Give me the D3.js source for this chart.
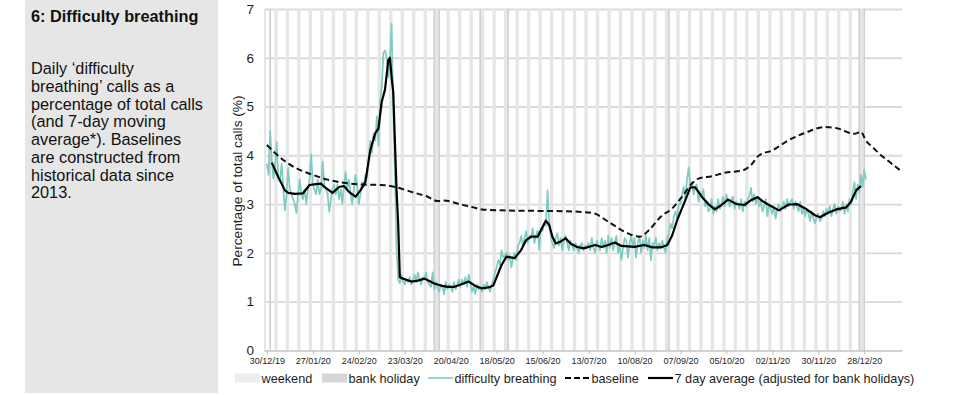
<!DOCTYPE html>
<html>
<head>
<meta charset="utf-8">
<script src="https://cdn.jsdelivr.net/npm/d3@7"></script>
<style>
  body { margin: 0; background: #fff; }
  svg { display: block; font-family: "Liberation Sans", Arial, sans-serif; }
</style>
</head>
<body>
<svg id="chart" width="957" height="395"></svg>
<script>
'use strict'

// x tick labels (every 4 weeks)
const tickLabels = ['30/12/19', '27/01/20', '24/02/20', '23/03/20', '20/04/20', '18/05/20', '15/06/20',
    '13/07/20', '10/08/20', '07/09/20', '05/10/20', '02/11/20', '30/11/20', '28/12/20']

const yTicks = [0, 1, 2, 3, 4, 5, 6, 7]

// bank holidays shaded darker
const bankHolidays = ['01/01/20', '10/04/20', '13/04/20', '08/05/20', '25/05/20', '31/08/20', '25/12/20', '28/12/20']

// daily 'difficulty breathing' %, one row per week starting Mon 30/12/19
const breathingWeeks = [
    [3.83, 3.6, 4.5, 3.9, 3.52, 3.8, 4.27],
    [3.5, 3.49, 3.83, 3.3, 2.87, 3.2, 3.74],
    [3.3, 3.2, 3.1, 3.0, 2.82, 3.2, 3.5],
    [3.2, 3.1, 3.3, 3.0, 3.3, 3.5, 4.02],
    [3.4, 3.3, 3.2, 3.5, 3.2, 3.3, 3.87],
    [3.4, 3.3, 3.2, 2.84, 3.1, 3.3, 3.4],
    [3.2, 3.4, 3.1, 3.3, 3.0, 3.4, 3.66],
    [3.3, 3.5, 3.2, 3.0, 3.3, 3.6, 3.4],
    [3.0, 3.2, 3.45, 3.35, 3.6, 3.55, 3.95],
    [4.3, 4.05, 4.45, 4.3, 4.8, 4.2, 5.1],
    [5.4, 6.1, 6.15, 6.0, 5.6, 5.95, 6.7],
    [5.0, 3.6, 2.1, 1.45, 1.38, 1.55, 1.42],
    [1.35, 1.45, 1.4, 1.5, 1.35, 1.45, 1.55],
    [1.4, 1.6, 1.45, 1.35, 1.5, 1.45, 1.6],
    [1.4, 1.35, 1.3, 1.6, 1.25, 1.4, 1.3],
    [1.2, 1.35, 1.3, 1.15, 1.4, 1.25, 1.35],
    [1.3, 1.2, 1.4, 1.25, 1.35, 1.45, 1.3],
    [1.45, 1.35, 1.5, 1.3, 1.55, 1.4, 1.2],
    [1.3, 1.15, 1.35, 1.25, 1.3, 1.2, 1.35],
    [1.25, 1.4, 1.3, 1.2, 1.35, 1.45, 1.6],
    [1.7, 1.85, 1.75, 2.05, 1.9, 1.95, 2.0],
    [1.85, 1.95, 1.7, 1.9, 2.0, 1.85, 2.15],
    [2.2, 2.35, 2.15, 2.3, 2.45, 2.2, 2.35],
    [2.3, 2.5, 2.2, 2.35, 2.45, 2.06, 2.5],
    [2.45, 2.6, 2.55, 3.28, 2.65, 2.35, 2.2],
    [2.1, 2.3, 2.4, 2.15, 2.3, 2.05, 2.25],
    [2.35, 2.2, 2.05, 2.25, 2.15, 2.05, 2.2],
    [2.1, 2.0, 2.15, 2.2, 2.05, 2.15, 2.1],
    [2.2, 2.05, 2.3, 2.1, 2.0, 2.25, 2.15],
    [2.05, 2.3, 2.1, 2.25, 2.0, 2.35, 2.1],
    [2.3, 2.05, 2.2, 2.35, 2.0, 2.15, 1.85],
    [2.1, 2.3, 2.25, 1.9, 2.2, 2.35, 2.1],
    [2.3, 1.9, 2.2, 2.35, 2.0, 2.25, 2.1],
    [2.35, 2.05, 2.3, 1.85, 2.2, 2.15, 2.3],
    [2.05, 2.2, 2.1, 2.25, 2.1, 2.0, 2.3],
    [2.4, 2.6, 2.5, 2.75, 2.85, 2.7, 3.0],
    [3.0, 3.2, 3.35, 3.1, 3.5, 3.75, 3.4],
    [3.45, 3.2, 3.35, 3.4, 3.05, 3.25, 3.15],
    [3.3, 2.95, 3.05, 2.85, 2.9, 3.1, 2.8],
    [2.95, 2.85, 3.1, 2.9, 3.0, 3.15, 2.95],
    [3.2, 3.05, 2.95, 3.1, 3.15, 2.9, 3.05],
    [3.0, 2.9, 3.1, 2.85, 3.05, 2.95, 3.1],
    [3.15, 3.33, 3.05, 3.2, 3.0, 3.15, 2.95],
    [3.05, 2.85, 2.95, 3.1, 2.75, 3.0, 2.9],
    [2.8, 2.95, 2.7, 2.9, 3.0, 2.85, 2.95],
    [3.05, 2.9, 3.1, 2.95, 3.05, 3.1, 2.9],
    [3.05, 2.95, 2.85, 3.05, 2.8, 2.9, 2.75],
    [2.9, 2.8, 2.65, 2.85, 2.7, 2.6, 2.75],
    [2.8, 2.65, 2.7, 2.85, 2.75, 2.9, 2.8],
    [2.95, 2.75, 2.9, 3.0, 2.8, 2.95, 2.85],
    [2.9, 3.05, 2.8, 3.0, 2.85, 3.1, 3.0],
    [3.25, 3.45, 3.1, 3.4, 3.25, 3.6, 3.35],
    [3.7, 3.5]
]

// 7 day average, day number since 30/12/19 and value
const avgDays = [3, 7, 11, 13, 17, 22, 26, 30, 33, 35, 40, 44, 47, 50, 54, 57, 60, 63, 66, 68, 70, 72, 74, 75,
    76, 77, 78, 79, 80, 81, 83, 88, 92, 96, 99, 102, 107, 110, 114, 119, 123, 127, 131, 135, 138, 140, 143,
    146, 151, 155, 158, 161, 165, 168, 170, 172, 174, 176, 179, 182, 185, 189, 193, 197, 200, 204, 208, 212,
    216, 220, 224, 230, 235, 240, 244, 247, 250, 255, 258, 261, 265, 269, 273, 277, 281, 286, 291, 295, 299,
    302, 306, 312, 318, 323, 328, 334, 337, 342, 347, 353, 356, 359, 362]
const avgValues = [3.85, 3.55, 3.28, 3.23, 3.21, 3.22, 3.39, 3.41, 3.42, 3.35, 3.23, 3.35, 3.37, 3.25, 3.15,
    3.28, 3.45, 4.1, 4.45, 4.55, 5.1, 5.35, 5.95, 6.0, 5.6, 5.3, 4.3, 3.3, 2.6, 1.5, 1.47, 1.41, 1.43, 1.47,
    1.42, 1.37, 1.32, 1.3, 1.3, 1.36, 1.41, 1.32, 1.27, 1.29, 1.33, 1.5, 1.75, 1.92, 1.89, 2.06, 2.26, 2.33,
    2.33, 2.53, 2.66, 2.57, 2.33, 2.19, 2.23, 2.3, 2.19, 2.12, 2.09, 2.13, 2.16, 2.12, 2.16, 2.21, 2.14,
    2.13, 2.12, 2.16, 2.11, 2.11, 2.16, 2.36, 2.67, 3.08, 3.34, 3.34, 3.15, 3.0, 2.89, 2.98, 3.09, 3.0, 2.98,
    3.08, 3.14, 3.06, 2.98, 2.87, 2.99, 3.0, 2.91, 2.77, 2.73, 2.82, 2.89, 2.93, 3.05, 3.28, 3.37]

// baseline from historical data
const baselineDays = [0, 9, 17, 27, 37, 48, 58, 70, 78, 88, 98, 104, 108, 112, 117, 125, 131, 143, 163, 183,
    198, 208, 218, 227, 233, 240, 247, 253, 259, 263, 271, 279, 290, 295, 300, 308, 318, 328, 340, 348, 356,
    358, 362, 365, 369, 372, 378, 386]
const baselineValues = [4.21, 3.93, 3.75, 3.61, 3.5, 3.43, 3.4, 3.39, 3.35, 3.25, 3.15, 3.06, 3.07, 3.05,
    3.0, 2.94, 2.89, 2.87, 2.86, 2.85, 2.82, 2.64, 2.43, 2.33, 2.47, 2.74, 2.91, 3.15, 3.42, 3.52, 3.57,
    3.64, 3.69, 3.8, 4.0, 4.1, 4.31, 4.46, 4.58, 4.55, 4.45, 4.44, 4.48, 4.3, 4.17, 4.07, 3.9, 3.69]

const panelLines = ['Daily \u2018difficulty', 'breathing\u2019 calls as a', 'percentage of total calls',
    '(and 7-day moving', 'average*). Baselines', 'are constructed from', 'historical data since', '2013.']

const legendItems = [
    { label: 'weekend', kind: 'weekend' },
    { label: 'bank holiday', kind: 'holiday' },
    { label: 'difficulty breathing', kind: 'daily' },
    { label: 'baseline', kind: 'baseline' },
    { label: '7 day average (adjusted for bank holidays)', kind: 'avg' }
]

const colors = {
    daily: '#7fcbc1',
    grid: '#dadada',
    weekend: '#e6e6e6',
    holiday: '#cfcfcf',
    text: '#1e1e1e'
}

const parseDay = d3.utcParse('%d/%m/%y')
const start = Date.UTC(2019, 11, 30)
const DAY = 864e5
const dayToDate = (n) => new Date(start + n * DAY)

const plot = { left: 264, right: 902, top: 9, bottom: 350.3 }

const svg = d3.select('#chart')

// left description panel
svg.append('rect')
    .attr('x', 25).attr('y', 0)
    .attr('width', 193).attr('height', 393)
    .attr('fill', '#e6e6e6')

svg.append('text')
    .attr('x', 31).attr('y', 22)
    .attr('font-size', 16.3).attr('font-weight', 'bold')
    .attr('fill', '#111')
    .text('6: Difficulty breathing')

svg.append('g')
    .selectAll('text')
    .data(panelLines)
    .join('text')
    .attr('x', 31)
    .attr('y', (d, i) => 74 + i * 17.75)
    .attr('font-size', 16.3)
    .attr('fill', '#111')
    .text((d) => d)

// scales
const x = d3.scaleUtc()
    .domain([new Date(Date.UTC(2019, 11, 28, 6)), new Date(Date.UTC(2021, 0, 20))])
    .range([plot.left, plot.right])

const y = d3.scaleLinear().domain([0, 7]).range([plot.bottom, plot.top])

// horizontal grid + y labels
const yAxis = svg.append('g')
    .attr('transform', `translate(${plot.left},0)`)
    .call(d3.axisLeft(y).tickValues(yTicks).tickFormat(d3.format('d'))
        .tickSize(-(plot.right - plot.left)).tickPadding(10))
yAxis.select('.domain').remove()
yAxis.selectAll('line').attr('stroke', colors.grid).attr('stroke-width', 1.8)
yAxis.selectAll('text').attr('font-size', 13.5).attr('fill', colors.text)
    .attr('font-family', '"Liberation Sans", Arial, sans-serif')

// weekend and bank holiday shading
const half = DAY / 2
const saturdays = d3.utcSaturday.range(dayToDate(-3), dayToDate(365))
const bands = svg.append('g')
bands.selectAll('rect.weekend')
    .data(saturdays)
    .join('rect')
    .attr('class', 'weekend')
    .attr('x', (d) => Math.max(plot.left, x(new Date(+d - half))))
    .attr('width', (d) => x(new Date(+d + 2 * DAY - half)) - Math.max(plot.left, x(new Date(+d - half))))
    .attr('y', plot.top)
    .attr('height', plot.bottom - plot.top)
    .attr('fill', colors.weekend)

bands.selectAll('rect.holiday')
    .data(bankHolidays.map(parseDay))
    .join('rect')
    .attr('class', 'holiday')
    .attr('x', (d) => x(new Date(+d - half)))
    .attr('width', (d) => x(new Date(+d + half)) - x(new Date(+d - half)))
    .attr('y', plot.top)
    .attr('height', plot.bottom - plot.top)
    .attr('fill', colors.holiday)

// x axis
const tickDates = tickLabels.map(parseDay)
const xAxis = svg.append('g')
    .attr('transform', `translate(0,${plot.bottom})`)
    .call(d3.axisBottom(x).tickValues(tickDates).tickFormat(d3.utcFormat('%d/%m/%y'))
        .tickSize(4).tickSizeOuter(0).tickPadding(3))
xAxis.select('.domain').attr('stroke', '#cfcfcf').attr('stroke-width', 1.8)
xAxis.selectAll('line').attr('stroke', '#bdbdbd')
xAxis.selectAll('text').attr('font-size', 9).attr('fill', colors.text)
    .attr('font-family', '"Liberation Sans", Arial, sans-serif')

// y axis title
svg.append('text')
    .attr('transform', 'translate(241.5,181) rotate(-90)')
    .attr('text-anchor', 'middle')
    .attr('font-size', 13.7)
    .attr('fill', colors.text)
    .text('Percentage of total calls (%)')

// series
const daily = breathingWeeks.flat().map((v, i) => ({ date: dayToDate(i), value: v }))
const avg = avgDays.map((d, i) => ({ date: dayToDate(d), value: avgValues[i] }))
const baseline = baselineDays.map((d, i) => ({ date: dayToDate(d), value: baselineValues[i] }))

const line = d3.line().x((d) => x(d.date)).y((d) => y(d.value))

svg.append('path')
    .datum(daily)
    .attr('d', line)
    .attr('fill', 'none')
    .attr('stroke', colors.daily)
    .attr('stroke-width', 1.7)
    .attr('stroke-linejoin', 'round')

svg.append('path')
    .datum(baseline)
    .attr('d', line.curve(d3.curveMonotoneX))
    .attr('fill', 'none')
    .attr('stroke', '#111')
    .attr('stroke-width', 2)
    .attr('stroke-dasharray', '6,3.5')

svg.append('path')
    .datum(avg)
    .attr('d', line.curve(d3.curveLinear))
    .attr('fill', 'none')
    .attr('stroke', '#000')
    .attr('stroke-width', 2.2)
    .attr('stroke-linejoin', 'round')

// legend
const legendX = [235, 322, 428, 565, 648]
const legend = svg.append('g').attr('transform', 'translate(0,378)')
legendItems.forEach((item, i) => {
    const g = legend.append('g').attr('transform', `translate(${legendX[i]},0)`)
    if (item.kind === 'weekend' || item.kind === 'holiday') {
        g.append('rect').attr('x', 0).attr('y', -4.5).attr('width', 25).attr('height', 9)
            .attr('fill', item.kind === 'weekend' ? '#ededed' : '#d6d6d6')
    } else {
        g.append('line').attr('x1', 0).attr('x2', 25).attr('y1', 0).attr('y2', 0)
            .attr('stroke', item.kind === 'daily' ? colors.daily : '#000')
            .attr('stroke-width', item.kind === 'daily' ? 1.6 : 2.2)
            .attr('stroke-dasharray', item.kind === 'baseline' ? '6,3' : null)
    }
    g.append('text')
        .attr('x', 26.5).attr('y', 4.5)
        .attr('font-size', 12.7)
        .attr('fill', colors.text)
        .text(item.label)
})
</script>
</body>
</html>
